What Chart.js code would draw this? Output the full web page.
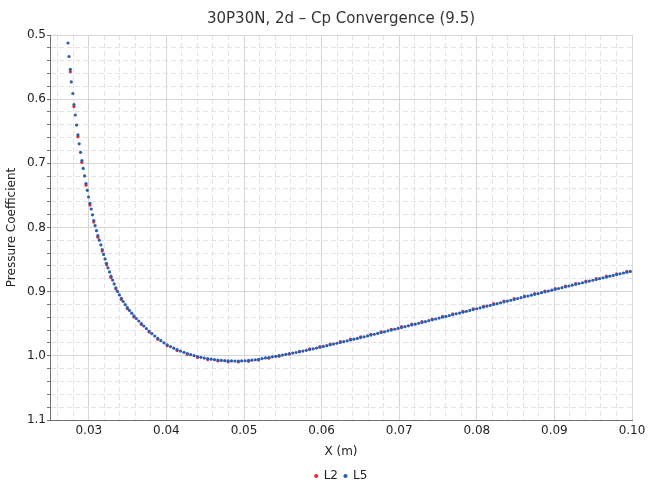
<!DOCTYPE html>
<html>
<head>
<meta charset="utf-8">
<script src="https://cdn.jsdelivr.net/npm/chart.js@4.4.1/dist/chart.umd.min.js"></script>
<style>
  html, body { margin: 0; padding: 0; background: #ffffff; }
  #wrap { width: 657px; height: 485px; }
</style>
</head>
<body>
<div id="wrap"><canvas id="c" width="657" height="485"></canvas></div>
<script>
// ---- data ----
const titleText = "30P30N, 2d \u2013 Cp Convergence (9.5)";
const xAxisTitle = "X (m)";
const yAxisTitle = "Pressure Coefficient";
const seriesNames = ["L2", "L5"];

const xMajorTicks = [0.03, 0.04, 0.05, 0.06, 0.07, 0.08, 0.09, 0.10];
const yMajorTicks = [0.5, 0.6, 0.7, 0.8, 0.9, 1.0, 1.1];

const l5X = [
0.02732,0.02745,0.02762,0.02774,0.02794,0.02809,0.02826,0.02843,0.02860,0.02876,
0.02894,0.02911,0.02928,0.02946,0.02964,0.02981,0.02997,0.03015,0.03031,0.03048,
0.03064,0.03081,0.03099,0.03117,0.03135,0.03155,0.03173,0.03191,0.03209,0.03228,
0.03247,0.03267,0.03286,0.03307,0.03327,0.03349,0.03371,0.03394,0.03419,0.03443,
0.03469,0.03496,0.03524,0.03553,0.03582,0.03613,0.03644,0.03677,0.03709,0.03742,
0.03777,0.03813,0.03850,0.03889,0.03929,0.03969,0.04010,0.04053,0.04095,0.04138,
0.04182,0.04226,0.04269,0.04313,0.04357,0.04401,0.04445,0.04488,0.04532,0.04576,
0.04620,0.04664,0.04707,0.04751,0.04795,0.04839,0.04883,0.04927,0.04970,0.05014,
0.05058,0.05102,0.05146,0.05189,0.05233,0.05277,0.05321,0.05365,0.05409,0.05452,
0.05496,0.05540,0.05584,0.05628,0.05671,0.05715,0.05759,0.05803,0.05847,0.05891,
0.05934,0.05978,0.06022,0.06066,0.06110,0.06153,0.06197,0.06241,0.06285,0.06329,
0.06372,0.06416,0.06460,0.06504,0.06548,0.06592,0.06635,0.06679,0.06723,0.06767,
0.06811,0.06854,0.06898,0.06942,0.06986,0.07030,0.07074,0.07118,0.07162,0.07206,
0.07250,0.07294,0.07338,0.07382,0.07426,0.07470,0.07514,0.07558,0.07602,0.07646,
0.07690,0.07734,0.07778,0.07822,0.07866,0.07910,0.07954,0.07998,0.08042,0.08086,
0.08130,0.08174,0.08218,0.08262,0.08306,0.08350,0.08394,0.08438,0.08482,0.08526,
0.08570,0.08614,0.08658,0.08702,0.08746,0.08790,0.08834,0.08878,0.08922,0.08966,
0.09010,0.09054,0.09098,0.09142,0.09186,0.09230,0.09274,0.09318,0.09362,0.09406,
0.09450,0.09494,0.09538,0.09582,0.09626,0.09670,0.09714,0.09758,0.09802,0.09846,
0.09890,0.09934,0.09978
];
const l5Cp = [
0.5125,0.5335,0.5535,0.5732,0.5912,0.6083,0.6247,0.6403,0.6555,0.6696,
0.6828,0.6957,0.7079,0.7197,0.7314,0.7420,0.7525,0.7623,0.7712,0.7802,
0.7891,0.7970,0.8050,0.8126,0.8198,0.8271,0.8344,0.8419,0.8489,0.8559,
0.8628,0.8693,0.8759,0.8820,0.8880,0.8940,0.8996,0.9050,0.9103,0.9153,
0.9202,0.9248,0.9293,0.9335,0.9378,0.9418,0.9457,0.9496,0.9535,0.9575,
0.9614,0.9653,0.9691,0.9728,0.9764,0.9798,0.9828,0.9856,0.9881,0.9904,
0.9926,0.9946,0.9965,0.9982,0.9998,1.0012,1.0024,1.0035,1.0044,1.0052,
1.0060,1.0066,1.0071,1.0076,1.0079,1.0080,1.0082,1.0082,1.0080,1.0077,
1.0072,1.0068,1.0061,1.0054,1.0043,1.0033,1.0026,1.0016,1.0007,0.9998,
0.9988,0.9977,0.9968,0.9957,0.9948,0.9937,0.9926,0.9914,0.9903,0.9890,
0.9879,0.9867,0.9854,0.9842,0.9829,0.9817,0.9804,0.9792,0.9780,0.9766,
0.9753,0.9741,0.9728,0.9716,0.9703,0.9689,0.9677,0.9664,0.9650,0.9638,
0.9625,0.9611,0.9599,0.9586,0.9572,0.9559,0.9546,0.9532,0.9519,0.9506,
0.9492,0.9479,0.9466,0.9452,0.9439,0.9426,0.9412,0.9399,0.9386,0.9372,
0.9359,0.9346,0.9333,0.9319,0.9306,0.9293,0.9279,0.9266,0.9253,0.9240,
0.9226,0.9213,0.9200,0.9187,0.9173,0.9160,0.9147,0.9134,0.9121,0.9107,
0.9094,0.9081,0.9068,0.9055,0.9042,0.9029,0.9016,0.9003,0.8990,0.8977,
0.8964,0.8951,0.8938,0.8925,0.8912,0.8899,0.8886,0.8873,0.8861,0.8848,
0.8835,0.8822,0.8810,0.8797,0.8784,0.8772,0.8759,0.8747,0.8734,0.8722,
0.8709,0.8697,0.8685
];

const l2X = [
0.02762,0.02809,0.02860,0.02911,0.02964,0.03015,0.03064,0.03117,0.03173,0.03228,
0.03286,0.03349,0.03419,0.03496,0.03582,0.03677,0.03777,0.03889,0.04010,0.04138,
0.04269,0.04401,0.04532,0.04664,0.04795,0.04927,0.05058,0.05189,0.05321,0.05452,
0.05584,0.05715,0.05847,0.05978,0.06110,0.06241,0.06372,0.06504,0.06635,0.06767,
0.06898,0.07030,0.07162,0.07294,0.07426,0.07558,0.07690,0.07822,0.07954,0.08086,
0.08218,0.08350,0.08482,0.08614,0.08746,0.08878,0.09010,0.09142,0.09274,0.09406,
0.09538,0.09670,0.09802,0.09934
];
const l2Cp = [
0.5572,0.6115,0.6585,0.6985,0.7340,0.7650,0.7915,0.8150,0.8368,0.8582,
0.8780,0.8960,0.9122,0.9266,0.9395,0.9512,0.9629,0.9742,0.9842,0.9918,
0.9978,1.0026,1.0058,1.0080,1.0093,1.0096,1.0086,1.0066,1.0036,1.0005,
0.9970,0.9930,0.9893,0.9855,0.9816,0.9779,0.9740,0.9703,0.9664,0.9625,
0.9586,0.9546,0.9506,0.9466,0.9426,0.9386,0.9346,0.9306,0.9266,0.9227,
0.9187,0.9147,0.9108,0.9068,0.9029,0.8990,0.8951,0.8912,0.8873,0.8835,
0.8797,0.8759,0.8721,0.8684
];

// ---- styling ----
const FONT = "'DejaVu Sans', Verdana, sans-serif";
const red = "rgb(228, 42, 52)";
const blue = "rgb(44, 92, 176)";
const majorGrid = "#d6d6d6";
const minorGrid = "#e3e3e3";
const axisColor = "#707070";

const X_MIN = 0.025, X_MAX = 0.10, Y_MIN = 0.5, Y_MAX = 1.1;

function isMajor(v, list) { return list.some(m => Math.abs(m - v) < 1e-9); }
function buildTicks(majors, step, lo, hi) {
  const out = [];
  const start = Math.ceil(lo / step - 1e-9);
  for (let k = start; k * step <= hi + 1e-9; k++) {
    out.push(Math.round(k * step * 1e6) / 1e6);
  }
  majors.forEach(m => { if (!out.some(v => Math.abs(v - m) < 1e-9)) out.push(m); });
  return out.sort((a, b) => a - b);
}
const xAllTicks = buildTicks(xMajorTicks, 0.002, X_MIN, X_MAX);
const yAllTicks = buildTicks(yMajorTicks, 0.02, Y_MIN, Y_MAX);

const toPts = (xs, ys) => xs.map((x, i) => ({ x: x, y: ys[i] }));

new Chart(document.getElementById('c'), {
  type: 'scatter',
  data: {
    datasets: [
      { label: seriesNames[0], data: toPts(l2X, l2Cp), order: 1,
        backgroundColor: red, borderColor: red, pointRadius: 1.6, pointBorderWidth: 0, pointHoverRadius: 1.6 },
      { label: seriesNames[1], data: toPts(l5X, l5Cp), order: 0,
        backgroundColor: blue, borderColor: blue, pointRadius: 1.6, pointBorderWidth: 0, pointHoverRadius: 1.6 }
    ]
  },
  options: {
    responsive: false,
    animation: false,
    devicePixelRatio: 1,
    layout: { padding: { left: 0, right: 25, top: 0, bottom: -7 } },
    plugins: {
      tooltip: { enabled: false },
      title: {
        display: true, text: titleText, fullSize: false,
        color: '#333', font: { family: FONT, size: 15, weight: 'normal' },
        padding: { top: 10, bottom: 7 }
      },
      legend: {
        position: 'bottom', fullSize: false,
        labels: {
          usePointStyle: true, pointStyle: 'circle', boxWidth: 3, boxHeight: 3,
          padding: 6, color: '#222', font: { family: FONT, size: 12 },
          sort: (a, b) => a.datasetIndex - b.datasetIndex
        }
      }
    },
    scales: {
      x: {
        type: 'linear', position: 'bottom', min: X_MIN, max: X_MAX,
        afterBuildTicks: s => { s.ticks = xAllTicks.map(v => ({ value: v })); },
        afterFit: s => { s.height = 44; },
        ticks: {
          autoSkip: false, maxRotation: 0, padding: 4, color: '#222',
          font: { family: FONT, size: 12 },
          callback: v => isMajor(v, xMajorTicks) ? v.toFixed(2) : ''
        },
        grid: {
          drawTicks: false,
          color: c => (c.tick && isMajor(c.tick.value, xMajorTicks)) ? majorGrid : minorGrid
        },
        border: {
          color: axisColor, width: 1,
          dash: c => (c.tick && !isMajor(c.tick.value, xMajorTicks)) ? [5, 3] : []
        },
        title: { display: true, text: xAxisTitle, color: '#222', font: { family: FONT, size: 12 }, padding: { top: 0, bottom: 5 } }
      },
      y: {
        type: 'linear', position: 'left', reverse: true, min: Y_MIN, max: Y_MAX,
        afterBuildTicks: s => { s.ticks = yAllTicks.map(v => ({ value: v })); },
        afterFit: s => { s.width = 50; },
        ticks: {
          autoSkip: false, padding: 1, color: '#222',
          font: { family: FONT, size: 12 },
          callback: v => isMajor(v, yMajorTicks) ? v.toFixed(1) : ''
        },
        grid: {
          drawTicks: true, tickLength: 3, tickColor: axisColor,
          color: c => (c.tick && isMajor(c.tick.value, yMajorTicks)) ? majorGrid : minorGrid
        },
        border: {
          color: axisColor, width: 1,
          dash: c => (c.tick && !isMajor(c.tick.value, yMajorTicks)) ? [5, 3] : []
        },
        title: { display: true, text: yAxisTitle, color: '#222', font: { family: FONT, size: 12 }, padding: { top: 5, bottom: 0 } }
      }
    }
  }
});
</script>
</body>
</html>
